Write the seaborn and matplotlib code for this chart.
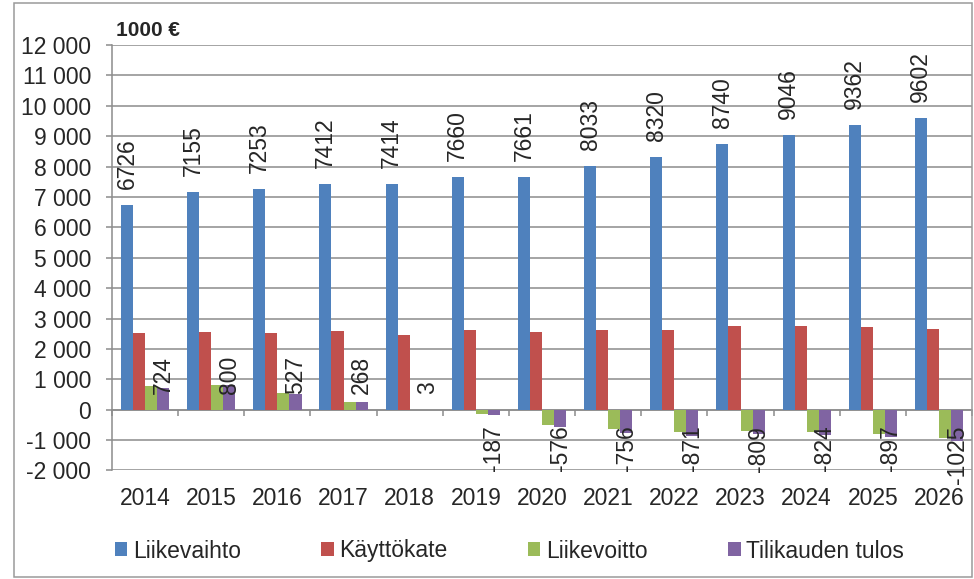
import numpy as np
import pandas as pd
import seaborn as sns
import matplotlib.pyplot as plt
from matplotlib.patches import Patch, Rectangle

years = [2014, 2015, 2016, 2017, 2018, 2019, 2020, 2021, 2022, 2023, 2024, 2025, 2026]
liikevaihto = [6726, 7155, 7253, 7412, 7414, 7660, 7661, 8033, 8320, 8740, 9046, 9362, 9602]
kayttokate = [2530, 2560, 2510, 2580, 2470, 2620, 2540, 2630, 2620, 2760, 2760, 2720, 2650]
liikevoitto = [770, 820, 550, 250, 5, -140, -490, -635, -745, -690, -720, -810, -945]
tulos = [724, 800, 527, 268, 3, -187, -576, -756, -871, -809, -824, -897, -1025]

series = ["Liikevaihto", "Käyttökate", "Liikevoitto", "Tilikauden tulos"]
colors = ["#4F81BD", "#C0504D", "#9BBB59", "#8064A2"]
grey = "#8c8c8c"
fs = 16.5

df = pd.DataFrame({
    "Vuosi": [str(y) for y in years] * 4,
    "Arvo": liikevaihto + kayttokate + liikevoitto + tulos,
    "Sarja": [s for s in series for _ in years],
})

sns.set_theme(style="white")
plt.rcParams["font.family"] = ["Liberation Sans", "DejaVu Sans"]

fig = plt.figure(figsize=(9.74, 5.79), dpi=100)
ax = fig.add_axes([0.115, 0.1874, 0.883, 0.735])

sns.barplot(data=df, x="Vuosi", y="Arvo", hue="Sarja", hue_order=series,
            palette=colors, width=0.73, errorbar=None, saturation=1,
            linewidth=0, ax=ax)
ax.legend_.remove()

ax.set_xlim(-0.5, len(years) - 0.5)
ax.set_ylim(-2000, 12000)
yt = list(range(-2000, 12001, 1000))
ax.set_yticks(yt)
ax.set_yticklabels([f"{v:,}".replace(",", " ") for v in yt])
ax.yaxis.grid(True, color=grey, linewidth=1.1)
ax.set_axisbelow(True)
ax.set_xlabel("")
ax.set_ylabel("")
for s in ["top", "right", "bottom"]:
    ax.spines[s].set_visible(False)
ax.spines["left"].set_color(grey)
ax.spines["left"].set_linewidth(1.1)
ax.tick_params(axis="y", length=4.5, width=1.1, color=grey, pad=10.5,
               labelsize=fs, left=True)
ax.tick_params(axis="x", length=0, pad=12, labelsize=fs)

# zero line with tick marks between categories
sec = ax.secondary_xaxis(0, transform=ax.transData)
sec.set_xticks(np.arange(len(years) + 1) - 0.5)
sec.set_xticklabels([])
sec.tick_params(length=4.5, width=1.1, color=grey)
sec.spines["bottom"].set_color(grey)
sec.spines["bottom"].set_linewidth(1.1)

# data labels
ax.bar_label(ax.containers[0], labels=[str(v) for v in liikevaihto],
             rotation=90, padding=11.5, fontsize=fs)
for patch, v in zip(ax.containers[3], tulos):
    ax.annotate(str(v), xy=(patch.get_x() + patch.get_width() / 2, 0),
                xytext=(0, 11.5 if v >= 0 else -11.5), textcoords="offset points",
                rotation=90, ha="center", va="bottom" if v >= 0 else "top",
                fontsize=fs)

fig.text(116 / 974, 1 - 31 / 579, "1000 €", fontweight="bold", fontsize=15,
         ha="left", va="center")

handles = [Patch(facecolor=c, edgecolor="none") for c in colors]
fig.legend(handles, series, loc="center", bbox_to_anchor=(0.523, 1 - 551 / 579),
           ncol=4, frameon=False, fontsize=fs, handlelength=0.55,
           handleheight=0.55, handletextpad=0.25, columnspacing=3.5)

fig.add_artist(Rectangle((14 / 974, 1 - 577 / 579), (972 - 14) / 974, (577 - 3) / 579,
                         transform=fig.transFigure, fill=False,
                         edgecolor="#9a9a9a", linewidth=1.1))

fig.savefig("out.png", dpi=100)
